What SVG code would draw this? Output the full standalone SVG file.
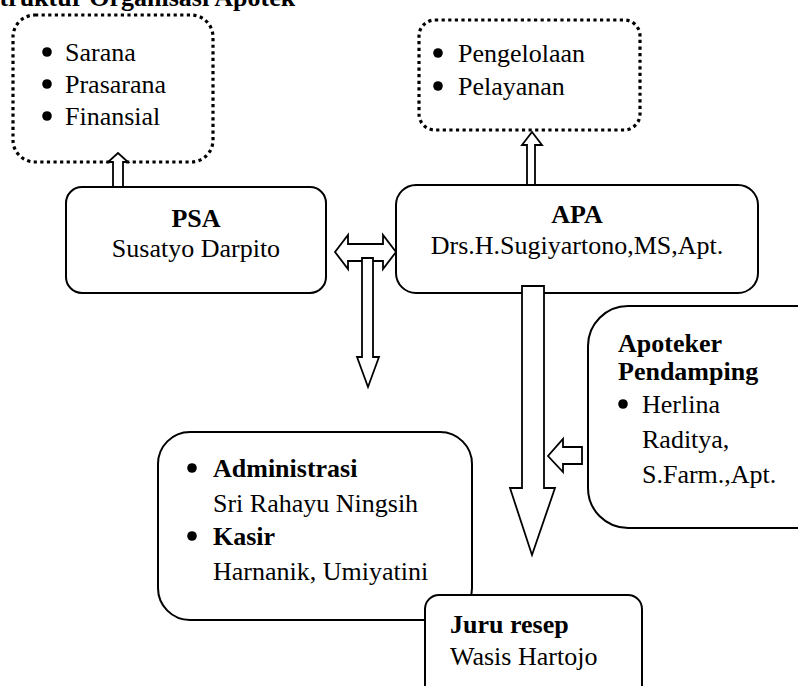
<svg xmlns="http://www.w3.org/2000/svg" width="798" height="686" viewBox="0 0 798 686">
  <style>
    text { font-family: "Liberation Serif", "Times New Roman", serif; font-size: 26px; fill: #000; }
    .b { font-weight: bold; }
    .mid { text-anchor: middle; }
    .box { fill: #fff; stroke: #000; stroke-width: 2; }
    .dot { fill: #fff; stroke: #000; stroke-width: 3.2; stroke-dasharray: 3.2 3.4; }
    .arr { fill: #fff; stroke: #000; stroke-width: 1.8; stroke-linejoin: miter; }
    .bul { fill: #000; }
  </style>

  <!-- heading -->
  <text class="b" x="-15" y="5.5" font-size="26.5">Struktur Organisasi Apotek</text>

  <!-- resources of the owner -->
  <g id="sarana">
    <rect class="dot" x="13" y="15" width="200" height="147" rx="22"/>
    <circle class="bul" cx="47" cy="52" r="4.8"/>
    <circle class="bul" cx="47" cy="84" r="4.8"/>
    <circle class="bul" cx="47" cy="116" r="4.8"/>
    <text x="65" y="61">Sarana</text>
    <text x="65" y="93">Prasarana</text>
    <text x="65" y="125">Finansial</text>
  </g>

  <!-- tasks of the pharmacist in charge -->
  <g id="tugas">
    <rect class="dot" x="419" y="20" width="221" height="110" rx="16"/>
    <circle class="bul" cx="438" cy="53" r="4.8"/>
    <circle class="bul" cx="438" cy="86" r="4.8"/>
    <text x="458" y="62">Pengelolaan</text>
    <text x="458" y="95">Pelayanan</text>
  </g>

  <g id="psa">
    <rect class="box" x="66" y="187" width="260" height="106" rx="16"/>
    <text class="b mid" x="196" y="227">PSA</text>
    <text class="mid" x="196" y="257">Susatyo Darpito</text>
  </g>

  <g id="apa">
    <rect class="box" x="396" y="185" width="362" height="108" rx="20"/>
    <text class="b mid" x="577" y="223">APA</text>
    <text class="mid" x="577" y="254">Drs.H.Sugiyartono,MS,Apt.</text>
  </g>

  <g id="pendamping">
    <rect class="box" x="588" y="306" width="250" height="222" rx="40"/>
    <text class="b" x="618" y="352">Apoteker</text>
    <text class="b" x="618" y="380">Pendamping</text>
    <circle class="bul" cx="623" cy="404" r="4.8"/>
    <text x="642" y="413">Herlina</text>
    <text x="642" y="448">Raditya,</text>
    <text x="642" y="483">S.Farm.,Apt.</text>
  </g>

  <g id="admin-kasir">
    <rect class="box" x="158" y="432" width="314" height="188" rx="32"/>
    <circle class="bul" cx="192" cy="468" r="4.8"/>
    <text class="b" x="213" y="477">Administrasi</text>
    <text x="213" y="512">Sri Rahayu Ningsih</text>
    <circle class="bul" cx="192" cy="536" r="4.8"/>
    <text class="b" x="213" y="545">Kasir</text>
    <text x="213" y="580">Harnanik, Umiyatini</text>
  </g>

  <g id="juru-resep">
    <rect class="box" x="425" y="595" width="217" height="110" rx="14"/>
    <text class="b" x="450" y="633">Juru resep</text>
    <text x="450" y="665">Wasis Hartojo</text>
  </g>

  <!-- block arrows -->
  <g id="connectors">
    <!-- PSA up to resources -->
    <path class="arr" d="M113,187 V162 H108 L118,153 L128,162 H123 V187 Z"/>
    <!-- APA up to tasks -->
    <path class="arr" d="M527,185 V145 H522 L532,132 L542,145 H535 V185 Z"/>
    <!-- PSA <-> APA -->
    <path class="arr" d="M335,252 L348,235 V244 H383 V235 L396,252 L383,269 V261 H348 V269 Z"/>
    <!-- small arrow down -->
    <path class="arr" d="M362,258 H373 V357 H379 L368,387 L357,357 H362 Z"/>
    <!-- APA down to staff -->
    <path class="arr" d="M522,286 H544 V488 H555 L532,555 L510,488 H522 Z"/>
    <!-- Pendamping left to main line -->
    <path class="arr" d="M582,447 V464 H563 V472 L548,456 L563,439 V447 Z"/>
  </g>
</svg>
